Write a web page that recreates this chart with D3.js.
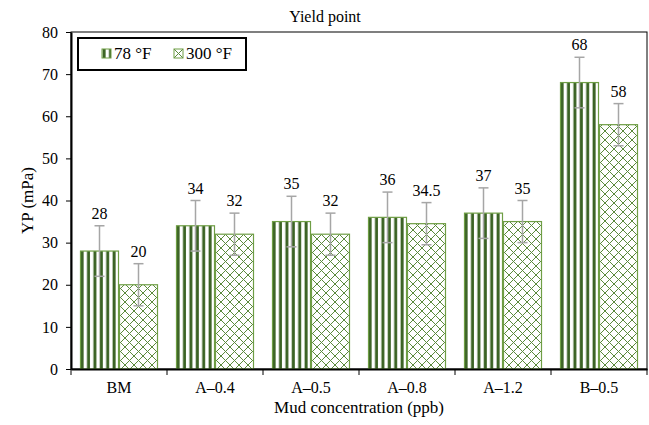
<!DOCTYPE html>
<html>
<head>
<meta charset="utf-8">
<script src="https://cdn.jsdelivr.net/npm/d3@7"></script>
<style>
	body { margin: 0; background: #fff; }
	svg text { font-family: "Liberation Serif", "Times New Roman", Times, serif !important; fill: #000; }
</style>
</head>
<body>
<svg width="649" height="425"></svg>
<script>
const categories = ["BM", "A\u20130.4", "A\u20130.5", "A\u20130.8", "A\u20131.2", "B\u20130.5"];
const series = ["78 \u00b0F", "300 \u00b0F"];
const values78 = [28, 34, 35, 36, 37, 68];
const values300 = [20, 32, 32, 34.5, 35, 58];
const err78 = [6, 6, 6, 6, 6, 6];
const err300 = [5, 5, 5, 5, 5, 5];
const yTicks = [0, 10, 20, 30, 40, 50, 60, 70, 80];

const svg = d3.select("svg");
const margin = {top: 32, right: 2, bottom: 56, left: 71};
const width = 649 - margin.left - margin.right;
const height = 425 - margin.top - margin.bottom;

const dark = "#3b6324";
const edge = "#6f9e45";
const hatch = "#5b8a3c";

// patterns
const defs = svg.append("defs");
const stripes = defs.append("pattern")
	.attr("id", "stripes")
	.attr("patternUnits", "userSpaceOnUse")
	.attr("width", 6.4).attr("height", 10);
stripes.append("rect").attr("width", 6.4).attr("height", 10).attr("fill", "#fff");
stripes.append("rect").attr("x", 0.6).attr("width", 3).attr("height", 10).attr("fill", dark);

const cross = defs.append("pattern")
	.attr("id", "cross")
	.attr("patternUnits", "userSpaceOnUse")
	.attr("width", 9).attr("height", 9);
cross.append("rect").attr("width", 9).attr("height", 9).attr("fill", "#fff");
cross.append("path")
	.attr("d", "M0,0 L9,9 M9,0 L0,9 M-1,8 L1,10 M8,-1 L10,1 M8,10 L10,8 M-1,1 L1,-1")
	.attr("stroke", hatch).attr("stroke-width", 1).attr("fill", "none");

const fills = ["url(#stripes)", "url(#cross)"];

const data = categories.map((c, i) => ({
	cat: c,
	bars: [
		{s: 0, v: values78[i], e: err78[i]},
		{s: 1, v: values300[i], e: err300[i]}
	]
}));

const x0 = d3.scaleBand().domain(categories).range([0, width])
	.paddingInner(0.1875).paddingOuter(0.09375);
const x1 = d3.scaleBand().domain([0, 1]).range([0, x0.bandwidth()]);
const y = d3.scaleLinear().domain([0, 80]).range([height, 0]);
const step = x0.step();

const g = svg.append("g").attr("transform", `translate(${margin.left},${margin.top})`);

// frame
g.append("rect").attr("width", width).attr("height", height)
	.attr("fill", "none").attr("stroke", "#000").attr("stroke-width", 1);

const groups = g.selectAll(".grp").data(data).join("g")
	.attr("transform", d => `translate(${x0(d.cat)},0)`);

groups.selectAll("rect.bar").data(d => d.bars).join("rect")
	.attr("class", "bar")
	.attr("x", d => x1(d.s) + 0.5)
	.attr("width", x1.bandwidth() - 1)
	.attr("y", d => y(d.v))
	.attr("height", d => height - y(d.v))
	.attr("fill", d => fills[d.s])
	.attr("stroke", edge).attr("stroke-width", 1.2);

// error bars
const eb = groups.selectAll("g.err").data(d => d.bars).join("g").attr("class", "err")
	.attr("stroke", "#a6a6a6").attr("stroke-width", 1.5);
eb.append("line")
	.attr("x1", d => x1(d.s) + x1.bandwidth() / 2).attr("x2", d => x1(d.s) + x1.bandwidth() / 2)
	.attr("y1", d => y(d.v + d.e)).attr("y2", d => y(d.v - d.e));
eb.append("line")
	.attr("x1", d => x1(d.s) + x1.bandwidth() / 2 - 5).attr("x2", d => x1(d.s) + x1.bandwidth() / 2 + 5)
	.attr("y1", d => y(d.v + d.e)).attr("y2", d => y(d.v + d.e));
eb.append("line")
	.attr("x1", d => x1(d.s) + x1.bandwidth() / 2 - 5).attr("x2", d => x1(d.s) + x1.bandwidth() / 2 + 5)
	.attr("y1", d => y(d.v - d.e)).attr("y2", d => y(d.v - d.e));

// value labels
groups.selectAll("text.val").data(d => d.bars).join("text")
	.attr("class", "val")
	.attr("x", d => x1(d.s) + x1.bandwidth() / 2)
	.attr("y", d => y(d.v + d.e) - 7)
	.attr("text-anchor", "middle")
	.attr("font-size", 16)
	.text(d => d.v);

// axes
const gY = g.append("g")
	.call(d3.axisLeft(y).tickValues(yTicks).tickSize(5).tickSizeOuter(0));
gY.select(".domain").attr("stroke-width", 2);
gY.selectAll("text").attr("font-size", 16).attr("x", -13);

const gX = g.append("g").attr("transform", `translate(0,${height})`)
	.call(d3.axisBottom(x0).tickSize(0).tickSizeOuter(0));
gX.select(".domain").attr("stroke-width", 2);
gX.selectAll("text").attr("font-size", 16).attr("dy", "1.3em");
gX.selectAll(".bnd").data(d3.range(categories.length + 1)).join("line")
	.attr("x1", i => i * step).attr("x2", i => i * step)
	.attr("y1", 0).attr("y2", 6).attr("stroke", "#000").attr("stroke-width", 1);

// titles
svg.append("text").attr("x", 325).attr("y", 22).attr("text-anchor", "middle")
	.attr("font-size", 16).text("Yield point");
svg.append("text").attr("x", margin.left + width / 2).attr("y", 413).attr("text-anchor", "middle")
	.attr("font-size", 17).text("Mud concentration (ppb)");
svg.append("text").attr("transform", `translate(33,${margin.top + height / 2}) rotate(-90)`)
	.attr("text-anchor", "middle").attr("font-size", 17).text("YP (mPa)");

// legend
const lg = svg.append("g").attr("transform", "translate(78,38)");
lg.append("rect").attr("width", 168).attr("height", 32)
	.attr("fill", "#fff").attr("stroke", "#000").attr("stroke-width", 2);
const items = lg.selectAll("g.item").data(series).join("g")
	.attr("transform", (d, i) => `translate(${24 + i * 72},11)`);
items.append("rect").attr("width", 9).attr("height", 9)
	.attr("fill", (d, i) => fills[i]).attr("stroke", edge).attr("stroke-width", 1);
items.append("text").attr("x", 12).attr("y", 9.5).attr("font-size", 17).text(d => d);
</script>
</body>
</html>
